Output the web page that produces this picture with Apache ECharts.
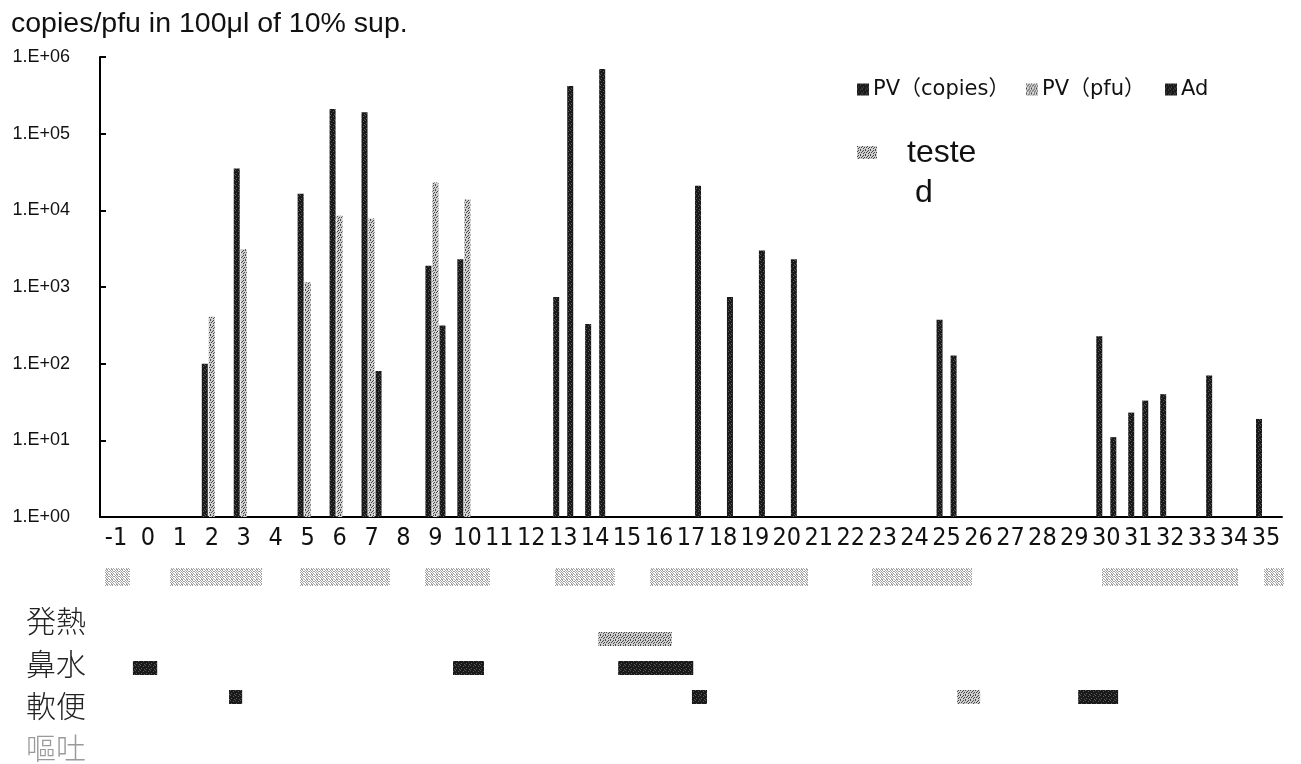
<!DOCTYPE html>
<html>
<head>
<meta charset="utf-8">
<title>PV / Ad</title>
<script src="https://cdn.jsdelivr.net/npm/echarts@6/dist/echarts.min.js"></script>
<style>
html, body { margin: 0; padding: 0; background: #fff; }
#main { width: 1301px; height: 764px; }
</style>
</head>
<body>
<div id="main"></div>
<script>
// 日数
var days = ['-1', '0', '1', '2', '3', '4', '5', '6', '7', '8', '9', '10', '11', '12', '13', '14', '15', '16', '17',
  '18', '19', '20', '21', '22', '23', '24', '25', '26', '27', '28', '29', '30', '31', '32', '33', '34', '35']
// PV (copies)
var pvCopies = [null, null, null, 100, 35000, null, 16500, 210000, 190000, null, 1900, 2300, null, null, 740, 330,
  null, null, null, null, null, null, null, null, null, null, 375, null, null, null, null, 227, 23, 40, null, null, 19]
// PV (pfu)
var pvPfu = [null, null, null, 410, 3100, null, 1150, 8500, 7800, null, 23000, 13800, null, null, null, null,
  null, null, null, null, null, null, null, null, null, null, null, null, null, null, null, null, null, null, null, null, null]
// Ad
var adCopies = [null, null, null, null, null, null, null, null, 80, null, 315, null, null, null, 420000, 700000,
  null, null, 21000, 740, 3000, 2300, null, null, null, null, 128, null, null, null, null, 11, 33, null, 70, null, null]
// 症状
var symptomNames = ['発熱', '鼻水', '軟便', '嘔吐']
// [症状, 開始日, 終了日, 程度(1:軽 2:重)]
var episodes = [
  [0, 14.1, 16.4, 1],
  [1, -0.47, 0.29, 2],
  [1, 9.55, 10.52, 2],
  [1, 14.72, 17.07, 2],
  [2, 2.54, 2.95, 2],
  [2, 17.03, 17.5, 2],
  [2, 25.33, 26.05, 1],
  [2, 29.12, 30.37, 2]
]

// 網点パターン
function makeStipple(bg, fg, mask) {
  var size = Math.round(Math.sqrt(mask.length))
  var c = document.createElement('canvas')
  c.width = c.height = size
  var ctx = c.getContext('2d')
  ctx.fillStyle = bg
  ctx.fillRect(0, 0, size, size)
  ctx.fillStyle = fg
  for (var i = 0; i < mask.length; i++) {
    if (mask[i] === '1') ctx.fillRect(i % size, Math.floor(i / size), 1, 1)
  }
  return { image: c, repeat: 'repeat' }
}
var darkFill = makeStipple('#1a1a1a', '#5a5a5a', '1000000010000000100000001')
var lightFill = makeStipple('#cfcfcf', '#474747', '1001000100010010001010000')
var blotFill = makeStipple('#ffffff', '#8c8c8c', '1010001011101000101001101')

function drawEpisode(params, api) {
  var p0 = api.coord([api.value(1), api.value(0)])
  var p1 = api.coord([api.value(2), api.value(0)])
  var h = 14
  return {
    type: 'rect',
    shape: { x: p0[0], y: p0[1] - h / 2, width: p1[0] - p0[0], height: h },
    style: { fill: api.value(3) === 2 ? darkFill : lightFill }
  }
}

var sans = 'Liberation Sans, Arial, sans-serif'
var cjk = 'Noto Sans CJK JP, sans-serif'

// ぼやけた日付の帯
var blots = [[105, 130], [170, 262], [300, 390], [425, 490], [555, 615], [650, 808], [872, 972], [1102, 1238], [1264, 1284]]
var graphics = blots.map(function (b) {
  return { type: 'rect', shape: { x: b[0], y: 568, width: b[1] - b[0], height: 18 }, style: { fill: blotFill, opacity: 0.8 }, silent: true }
})
symptomNames.forEach(function (name, i) {
  var ys = [621, 664, 706, 748]
  graphics.push({
    type: 'text', x: 26, y: ys[i],
    style: { text: name, fontSize: 30, fontFamily: cjk, fontWeight: 300, fill: i === 3 ? '#9a9a9a' : '#222', verticalAlign: 'middle' }
  })
})
graphics.push({ type: 'rect', shape: { x: 857, y: 146, width: 20, height: 13 }, style: { fill: lightFill } })
graphics.push({ type: 'text', x: 907, y: 153, style: { text: 'teste', fontSize: 32, fontFamily: sans, fill: '#111', verticalAlign: 'middle' } })
graphics.push({ type: 'text', x: 915, y: 193, style: { text: 'd', fontSize: 32, fontFamily: sans, fill: '#111', verticalAlign: 'middle' } })

var myChart = echarts.init(document.getElementById('main'))
myChart.setOption({
  backgroundColor: '#fff',
  animation: false,
  title: {
    text: 'copies/pfu in 100μl of 10% sup.',
    left: 6,
    top: 5,
    textStyle: { fontSize: 28.5, fontWeight: 'normal', fontFamily: sans, color: '#111' }
  },
  legend: [
    { data: ['PV（copies）'], left: 852, top: 74 },
    { data: ['PV（pfu）'], left: 1021, top: 74 },
    { data: ['Ad'], left: 1160, top: 74 }
  ].map(function (l) {
    l.icon = 'rect'
    l.itemWidth = 12
    l.itemHeight = 12
    l.itemGap = 4
    l.textStyle = { fontSize: 21, fontFamily: 'DejaVu Sans, Noto Sans CJK JP, sans-serif', color: '#111', padding: [0, 0, 0, -1] }
    return l
  }),
  grid: [
    { left: 100, right: 19, top: 57, bottom: 247 },
    { left: 100, right: 19, top: 639, height: 58 }
  ],
  xAxis: [
    {
      type: 'category',
      gridIndex: 0,
      data: days,
      boundaryGap: true,
      axisLine: { lineStyle: { color: '#000', width: 2 } },
      axisTick: { inside: true, length: 5, interval: 0, lineStyle: { color: '#000', width: 2 } },
      axisLabel: { interval: 0, margin: 9, fontSize: 25, color: '#111', fontFamily: 'Liberation Sans Narrow, DejaVu Sans Condensed, sans-serif' }
    },
    { type: 'value', gridIndex: 1, min: -1.5, max: 35.5, show: false }
  ],
  yAxis: [
    {
      type: 'log',
      gridIndex: 0,
      logBase: 10,
      min: 1,
      max: 1000000,
      axisLine: { show: true, lineStyle: { color: '#000', width: 2 } },
      axisTick: { show: true, inside: true, length: 6, lineStyle: { color: '#000', width: 2 } },
      splitLine: { show: false },
      axisLabel: {
        margin: 30,
        fontSize: 18,
        fontFamily: sans,
        color: '#111',
        formatter: function (v) {
          var e = Math.round(Math.log10(v))
          return '1.E+' + (e < 10 ? '0' : '') + e
        }
      }
    },
    { type: 'value', gridIndex: 1, min: 0, max: 2, inverse: true, show: false }
  ],
  series: [
    { name: 'PV（copies）', type: 'bar', data: pvCopies, barWidth: 6, barGap: '17%', itemStyle: { color: darkFill } },
    { name: 'PV（pfu）', type: 'bar', data: pvPfu, barWidth: 6, barGap: '17%', itemStyle: { color: lightFill } },
    { name: 'Ad', type: 'bar', data: adCopies, barWidth: 6, barGap: '17%', itemStyle: { color: darkFill } },
    {
      name: '症状',
      type: 'custom',
      xAxisIndex: 1,
      yAxisIndex: 1,
      renderItem: drawEpisode,
      encode: { x: [1, 2], y: 0 },
      data: episodes
    }
  ],
  graphic: graphics
})
</script>
</body>
</html>
